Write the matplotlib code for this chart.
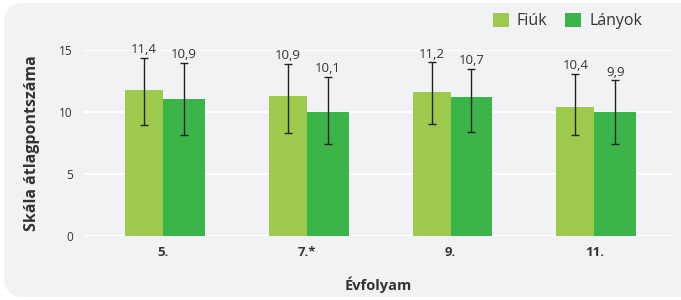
import numpy as np
import matplotlib.pyplot as plt
from matplotlib.patches import FancyBboxPatch

plt.rcParams['font.family'] = ['Open Sans', 'DejaVu Sans']

# data
grades = ['5.', '7.*', '9.', '11.']
fiuk_bar = [11.75, 11.3, 11.6, 10.4]
lanyok_bar = [11.05, 10.0, 11.2, 10.0]
fiuk_labels = ['11,4', '10,9', '11,2', '10,4']
lanyok_labels = ['10,9', '10,1', '10,7', '9,9']
fiuk_err_lo = [8.95, 8.3, 9.05, 8.15]
fiuk_err_hi = [14.35, 13.9, 14.0, 13.05]
lanyok_err_lo = [8.15, 7.45, 8.35, 7.45]
lanyok_err_hi = [13.95, 12.85, 13.5, 12.55]

c_fiuk = '#9dc94d'
c_lanyok = '#3bb44a'
panel = '#f1f2f4'
txt = '#333333'

W, H = 681, 300
fig = plt.figure(figsize=(W / 100, H / 100), dpi=100)
fig.patch.set_facecolor('white')

# rounded background panel
bg = FancyBboxPatch((4 / W, 3 / H), (W + 20) / W, (H - 6) / H,
                    boxstyle='round,pad=0,rounding_size=0.03',
                    transform=fig.transFigure, facecolor=panel,
                    edgecolor='none', zorder=0, mutation_aspect=W / H)
fig.patches.append(bg)

# axes: left 84px, right 672px, y=0 at 236px, y=15 at 50px
ax = fig.add_axes([84 / W, (H - 236) / H, (672 - 84) / W, (236 - 50) / H])
ax.set_zorder(2)
ax.set_facecolor('none')
ax.set_ylim(0, 15)
ax.set_xlim(-0.55, 3.54)

x = np.arange(len(grades))
wf, wl = 0.265, 0.29
ax.bar(x - wf / 2, fiuk_bar, width=wf, color=c_fiuk, zorder=2, label='Fiúk')
ax.bar(x + wl / 2, lanyok_bar, width=wl, color=c_lanyok, zorder=2, label='Lányok')

xf = x - wf / 2
xl = x + wl / 2
fb = np.array(fiuk_bar)
lb = np.array(lanyok_bar)
ax.errorbar(xf, fb, yerr=[fb - np.array(fiuk_err_lo), np.array(fiuk_err_hi) - fb],
            fmt='none', ecolor='#222222', elinewidth=1.0, capsize=3, capthick=1.0, zorder=3)
ax.errorbar(xl, lb, yerr=[lb - np.array(lanyok_err_lo), np.array(lanyok_err_hi) - lb],
            fmt='none', ecolor='#222222', elinewidth=1.0, capsize=3, capthick=1.0, zorder=3)

for xi, top, s in zip(xf, fiuk_err_hi, fiuk_labels):
    ax.text(xi, top + 0.15, s, ha='center', va='bottom', fontsize=9.5, color=txt, zorder=4)
for xi, top, s in zip(xl, lanyok_err_hi, lanyok_labels):
    ax.text(xi, top + 0.15, s, ha='center', va='bottom', fontsize=9.5, color=txt, zorder=4)

ax.set_yticks([0, 5, 10, 15])
ax.yaxis.grid(True, color='white', linewidth=1.6, zorder=1)
ax.set_axisbelow(True)
ax.tick_params(axis='y', length=0, labelsize=8.5, labelcolor=txt, pad=8)
ax.set_xticks(x)
ax.set_xticklabels(grades, fontweight='bold', fontsize=9.5, color=txt)
ax.tick_params(axis='x', length=0, pad=7)
for s in ax.spines.values():
    s.set_visible(False)

ax.set_ylabel('Skála átlagpontszáma', fontweight='bold', fontsize=11.5, color=txt, labelpad=14)
ax.set_xlabel('Évfolyam', fontweight='bold', fontsize=10.5, color=txt, labelpad=13)

leg = ax.legend(loc='center right', bbox_to_anchor=(642 / W, (H - 21) / H),
                bbox_transform=fig.transFigure, ncol=2, frameon=False,
                borderaxespad=0, borderpad=0,
                fontsize=11.5, handlelength=1.0, handleheight=1.0,
                handletextpad=0.5, columnspacing=1.1)
for t in leg.get_texts():
    t.set_color(txt)

fig.savefig('out.png', dpi=100, facecolor=fig.get_facecolor())
